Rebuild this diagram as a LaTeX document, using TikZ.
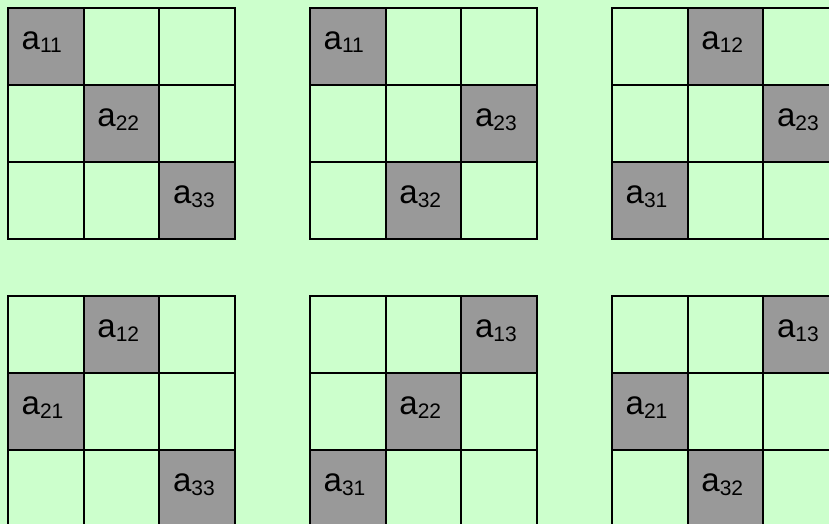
\documentclass[tikz,border=0pt]{standalone}
\usepackage{fontspec}
\setmainfont{Liberation Sans}
\usetikzlibrary{positioning}
\definecolor{bggreen}{HTML}{CCFFCC}
\definecolor{cellgray}{HTML}{999999}

\newcommand{\entry}[1]{a\raisebox{-3.5pt}{\fontsize{21}{23}\selectfont #1}}

\begin{document}
\begin{tikzpicture}[x=1pt, y=-1pt,
  cell/.style={draw, line width=2pt, minimum width=75.7pt, minimum height=77pt,
               inner sep=0pt, outer sep=0pt},
  hit/.style={cell, fill=cellgray},
  lbl/.style={anchor=base west, inner sep=0pt, xshift=13.5pt, yshift=-41.5pt,
              font=\fontsize{33}{38}\selectfont}
]
\fill[bggreen] (0,0) rectangle (829,524);
\useasboundingbox (0,0) rectangle (829,524);

% grid number / top left corner / column of the grey cell in rows 1,2,3
\foreach \g/\gx/\gy/\ca/\cb/\cc in {1/8/8/1/2/3, 2/310/8/1/3/2, 3/612/8/2/3/1,
                                    4/8/296/2/1/3, 5/310/296/3/2/1, 6/612/296/3/1/2}{
  \foreach \r in {1,2,3}
    \foreach \c in {1,2,3}
      \node[cell] (g\g-\r\c) at ({\gx+75.7*(\c-0.5)},{\gy+77*(\r-0.5)}) {};
  \foreach \r/\c in {1/\ca,2/\cb,3/\cc}{
    \node[hit] (h\g-\r\c) at (g\g-\r\c) {};
    \node[lbl] (t\g-\r\c) at (h\g-\r\c.north west) {\entry{\r\c}};
  }
}
\end{tikzpicture}
\end{document}
